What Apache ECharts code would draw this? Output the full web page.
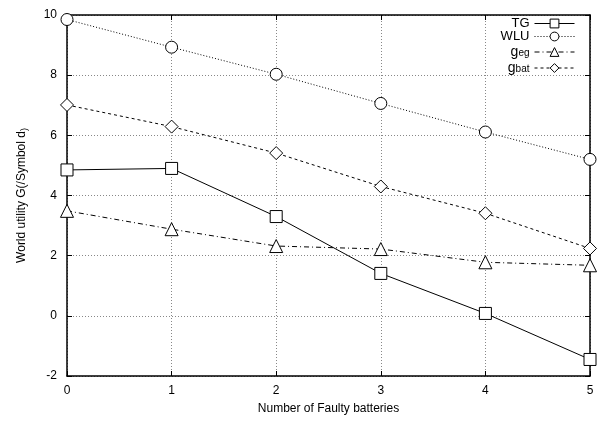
<!DOCTYPE html>
<html>
<head>
<meta charset="utf-8">
<script src="https://cdn.jsdelivr.net/npm/echarts@6/dist/echarts.min.js"></script>
<style>html,body{margin:0;padding:0;background:#fff}#c{width:600px;height:421px}</style>
</head>
<body>
<div id="c"></div>
<script>
var xValues = [0, 1, 2, 3, 4, 5];
var tgValues = [4.85, 4.9, 3.3, 1.41, 0.08, -1.45];
var wluValues = [9.85, 8.93, 8.03, 7.06, 6.11, 5.2];
var gegValues = [3.49, 2.88, 2.32, 2.22, 1.78, 1.68];
var gbatValues = [7.01, 6.29, 5.41, 4.3, 3.41, 2.24];
var seriesNames = ['TG', 'WLU', 'g_eg', 'g_bat'];

function pairs(vals) { return xValues.map(function (x, i) { return [x, vals[i]]; }); }

var chart = echarts.init(document.getElementById('c'));
var font = 'Liberation Sans, Arial, sans-serif';
var gridLine = { show: true, lineStyle: { color: '#888', type: [1, 2], width: 1 } };
function mk(name, vals, symbol, lineType, size) {
  return {
    name: name, type: 'line', data: pairs(vals),
    symbol: symbol, symbolSize: size, showAllSymbol: true,
    itemStyle: { color: '#fff', borderColor: '#000', borderWidth: 1 },
    lineStyle: { color: '#000', width: 1, type: lineType },
    emphasis: { disabled: true }, z: 5
  };
}
chart.setOption({
  animation: false,
  backgroundColor: '#fff',
  grid: { left: 67, right: 10, top: 15, bottom: 45 },
  legend: {
    data: seriesNames,
    right: 25, top: 17, orient: 'vertical', align: 'right',
    itemWidth: 40, itemHeight: 11, itemGap: 0, padding: 0,
    lineStyle: { width: 1 },
    itemStyle: { borderWidth: 1 },
    textStyle: {
      fontFamily: font, fontSize: 13, color: '#000', lineHeight: 12,
      rich: {
        sub: { fontSize: 10, lineHeight: 12, verticalAlign: 'bottom', padding: [5, 0, 0, 0], fontFamily: font, color: '#000' },
        base: { fontSize: 14, lineHeight: 12, fontFamily: font, color: '#000' }
      }
    },
    formatter: function (n) {
      if (n === 'g_eg') return '{base|g}{sub|eg}';
      if (n === 'g_bat') return '{base|g}{sub|bat}';
      return n;
    }
  },
  xAxis: [{
    type: 'value', min: 0, max: 5, interval: 1,
    name: 'Number of Faulty batteries', nameLocation: 'middle', nameGap: 27,
    nameTextStyle: { fontFamily: font, fontSize: 12, color: '#000' },
    axisLine: { onZero: false, lineStyle: { color: '#000', width: 1.5 } },
    axisTick: { inside: true, length: 5, lineStyle: { color: '#000' } },
    axisLabel: { fontFamily: font, fontSize: 12, color: '#000', margin: 9 },
    splitLine: gridLine
  }, {
    type: 'value', min: 0, max: 5, interval: 1, position: 'top',
    axisLine: { onZero: false, lineStyle: { color: '#000', width: 1.5 } },
    axisTick: { inside: true, length: 5, lineStyle: { color: '#000' } },
    axisLabel: { show: false }, splitLine: { show: false }
  }],
  yAxis: [{
    type: 'value', min: -2, max: 10, interval: 2,
    name: 'World utility G(/Symbol d{sub|)}', nameLocation: 'middle', nameGap: 38, nameRotate: 90,
    nameTextStyle: { fontFamily: font, fontSize: 12, color: '#000', rich: { sub: { fontSize: 9, fontFamily: font, color: '#000', padding: [5, 0, 0, 0], verticalAlign: 'bottom' } } },
    axisLine: { onZero: false, lineStyle: { color: '#000', width: 1.5 } },
    axisTick: { inside: true, length: 5, lineStyle: { color: '#000' } },
    axisLabel: { fontFamily: font, fontSize: 12, color: '#000', margin: 10 },
    splitLine: gridLine
  }, {
    type: 'value', min: -2, max: 10, interval: 2, position: 'right',
    axisLine: { show: true, onZero: false, lineStyle: { color: '#000', width: 1.5 } },
    axisTick: { show: true, inside: true, length: 5, lineStyle: { color: '#000' } },
    axisLabel: { show: false }, splitLine: { show: false }
  }],
  series: [
    mk('TG', tgValues, 'rect', 'solid', 12),
    mk('WLU', wluValues, 'circle', [1, 2], 12),
    mk('g_eg', gegValues, 'triangle', [5, 3, 1, 3], 13),
    mk('g_bat', gbatValues, 'diamond', [3, 3], 13)
  ]
});
</script>
</body>
</html>
